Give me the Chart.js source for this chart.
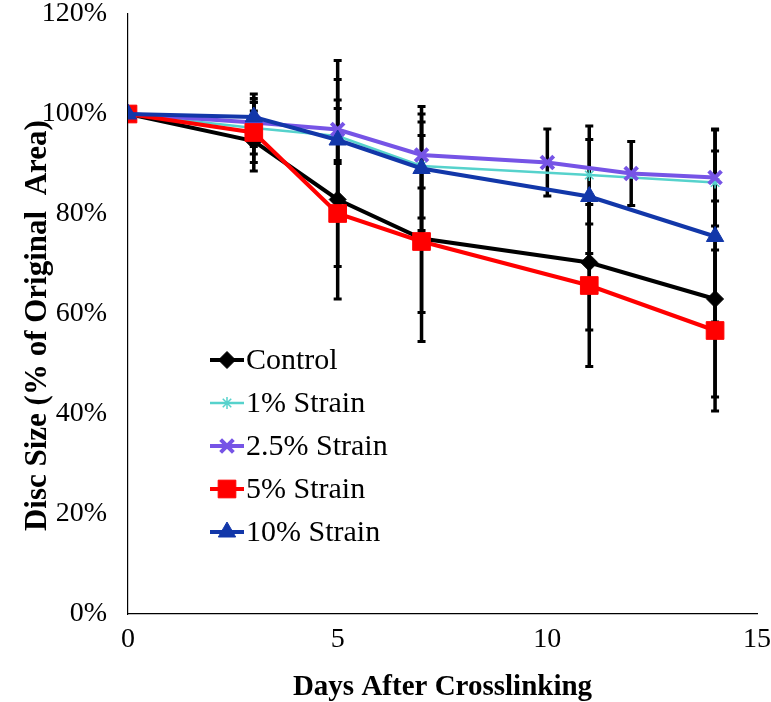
<!DOCTYPE html>
<html>
<head>
<meta charset="utf-8">
<script src="https://cdn.jsdelivr.net/npm/chart.js@4/dist/chart.umd.min.js"></script>
<style>
  html, body { margin: 0; padding: 0; background: #fff; }
  canvas { display: block; }
</style>
</head>
<body>
<canvas id="chart" width="771" height="702"></canvas>
<script>
const seriesNames = ["Control", "1% Strain", "2.5% Strain", "5% Strain", "10% Strain"];

// days after crosslinking for each series
const controlDays = [0, 3, 5, 7, 11, 14];
const strain1Days = [0, 3, 5, 7, 11, 14];
const strain25Days = [0, 3, 5, 7, 10, 12, 14];
const strain5Days = [0, 3, 5, 7, 11, 14];
const strain10Days = [0, 3, 5, 7, 11, 14];

// disc size, % of original area
const controlValues = [100, 94.6, 82.9, 75.1, 70.3, 63.0];
const strain1Values = [100, 97.2, 95.6, 89.6, 87.8, 86.3];
const strain25Values = [100, 98.3, 96.9, 91.8, 90.3, 88.1, 87.3];
const strain5Values = [100, 96.3, 80.1, 74.5, 65.7, 56.7];
const strain10Values = [100, 99.4, 94.8, 89.1, 83.5, 75.5];

// error bar half lengths (same units)
const controlErr = [0, 6.0, 19.9, 20.6, 13.5, 19.6];
const strain1Err = [0, 5.2, 5.5, 10.4, 9.8, 10.5];
const strain25Err = [0, 4.8, 13.8, 6.6, 6.7, 6.4, 9.7];
const strain5Err = [0, 6.0, 10.6, 14.2, 16.2, 16.1];
const strain10Err = [0, 4.6, 12.1, 12.4, 11.4, 17.1];

const xTicks = [0, 5, 10, 15];
const yTicks = [0, 20, 40, 60, 80, 100, 120];

const FONT = "'Liberation Serif', 'Times New Roman', serif";

const toPoints = (days, vals) => days.map((d, i) => ({ x: d, y: vals[i] }));

const errors = [controlErr, strain1Err, strain25Err, strain5Err, strain10Err];

const datasets = [
  {
    label: seriesNames[0],
    data: toPoints(controlDays, controlValues),
    borderColor: "#000000",
    backgroundColor: "#000000",
    borderWidth: 4,
    pointStyle: "rectRot",
    pointRadius: 8.5,
    pointBorderWidth: 1,
    order: 4,
  },
  {
    label: seriesNames[1],
    data: toPoints(strain1Days, strain1Values),
    borderColor: "rgb(86, 210, 204)",
    backgroundColor: "rgb(86, 210, 204)",
    borderWidth: 2.5,
    pointStyle: "star",
    pointRadius: 6,
    pointBorderWidth: 1.5,
    order: 3,
  },
  {
    label: seriesNames[2],
    data: toPoints(strain25Days, strain25Values),
    borderColor: "#7654e6",
    backgroundColor: "#7654e6",
    borderWidth: 4,
    pointStyle: "crossRot",
    pointRadius: 9,
    pointBorderWidth: 4,
    order: 2,
  },
  {
    label: seriesNames[3],
    data: toPoints(strain5Days, strain5Values),
    borderColor: "#ff0000",
    backgroundColor: "#ff0000",
    borderWidth: 4,
    pointStyle: "rect",
    pointRadius: 12.5,
    pointBorderWidth: 1,
    order: 1,
  },
  {
    label: seriesNames[4],
    data: toPoints(strain10Days, strain10Values),
    borderColor: "#1237a9",
    backgroundColor: "#1237a9",
    borderWidth: 4,
    pointStyle: "triangle",
    pointRadius: 10,
    pointBorderWidth: 1,
    order: 0,
  },
];

// black error bars, drawn under the lines
const errorBars = {
  id: "errorBars",
  beforeDatasetsDraw(chart) {
    const { ctx, scales } = chart;
    ctx.save();
    ctx.strokeStyle = "#000";
    chart.data.datasets.forEach((ds, i) => {
      ds.data.forEach((p, j) => {
        const e = errors[i][j];
        if (!e) return;
        const x = scales.x.getPixelForValue(p.x);
        const top = scales.y.getPixelForValue(p.y + e);
        const bot = scales.y.getPixelForValue(p.y - e);
        ctx.lineWidth = 3.5;
        ctx.beginPath();
        ctx.moveTo(x, top);
        ctx.lineTo(x, bot);
        ctx.stroke();
        ctx.lineWidth = 3;
        ctx.beginPath();
        ctx.moveTo(x - 4, top);
        ctx.lineTo(x + 4, top);
        ctx.moveTo(x - 4, bot);
        ctx.lineTo(x + 4, bot);
        ctx.stroke();
      });
    });
    ctx.restore();
  },
};

// Excel style legend: line + marker + label, inside the plot
const insideLegend = {
  id: "insideLegend",
  afterDraw(chart) {
    const { ctx, chartArea } = chart;
    const x0 = chartArea.left + 82;
    const y0 = chartArea.top + 346;
    const rowH = 43;
    ctx.save();
    ctx.font = "30px " + FONT;
    ctx.textBaseline = "middle";
    ctx.textAlign = "left";
    chart.data.datasets.forEach((ds, i) => {
      const y = y0 + i * rowH;
      ctx.strokeStyle = ds.borderColor;
      ctx.lineWidth = ds.borderWidth;
      ctx.beginPath();
      ctx.moveTo(x0, y);
      ctx.lineTo(x0 + 34, y);
      ctx.stroke();
      ctx.fillStyle = ds.backgroundColor;
      ctx.lineWidth = ds.pointBorderWidth;
      Chart.helpers.drawPoint(ctx, {
        pointStyle: ds.pointStyle,
        radius: ds.pointRadius,
        rotation: 0,
        borderWidth: ds.pointBorderWidth,
      }, x0 + 17, y);
      ctx.fillStyle = "#000";
      ctx.fillText(ds.label, x0 + 36, y + 1);
    });
    ctx.restore();
  },
};

new Chart(document.getElementById("chart"), {
  type: "line",
  data: { datasets },
  options: {
    responsive: false,
    animation: false,
    layout: { padding: 0 },
    plugins: {
      legend: { display: false },
      tooltip: { enabled: false },
    },
    scales: {
      x: {
        type: "linear",
        min: xTicks[0],
        max: xTicks[xTicks.length - 1],
        afterBuildTicks: (s) => { s.ticks = xTicks.map((v) => ({ value: v })); },
        afterFit: (s) => {
          s.height = 88;
          s.paddingLeft = 0;
          s.paddingRight = 14;
        },
        grid: { display: false, drawTicks: false },
        border: { display: true, color: "#000", width: 1.2 },
        ticks: {
          padding: 12,
          color: "#000",
          font: { family: FONT, size: 28, lineHeight: 1 },
        },
        title: {
          display: true,
          text: "Days After Crosslinking",
          color: "#000",
          padding: 0,
          font: { family: FONT, size: 29, weight: "bold", lineHeight: 1 },
        },
      },
      y: {
        type: "linear",
        min: yTicks[0],
        max: yTicks[yTicks.length - 1],
        afterBuildTicks: (s) => { s.ticks = yTicks.map((v) => ({ value: v })); },
        afterFit: (s) => {
          s.width = 128;
          s.paddingTop = 14;
          s.paddingBottom = 0;
        },
        grid: { display: false, drawTicks: false },
        border: { display: true, color: "#000", width: 1.2 },
        ticks: {
          padding: 21,
          color: "#000",
          font: { family: FONT, size: 28, lineHeight: 1 },
          callback: (v) => v + "%",
        },
        title: {
          display: true,
          text: "Disc Size (% of Original  Area)   ",
          color: "#000",
          padding: { top: 22, bottom: 0 },
          font: { family: FONT, size: 31, weight: "bold", lineHeight: 1 },
        },
      },
    },
  },
  plugins: [errorBars, insideLegend],
});
</script>
</body>
</html>
